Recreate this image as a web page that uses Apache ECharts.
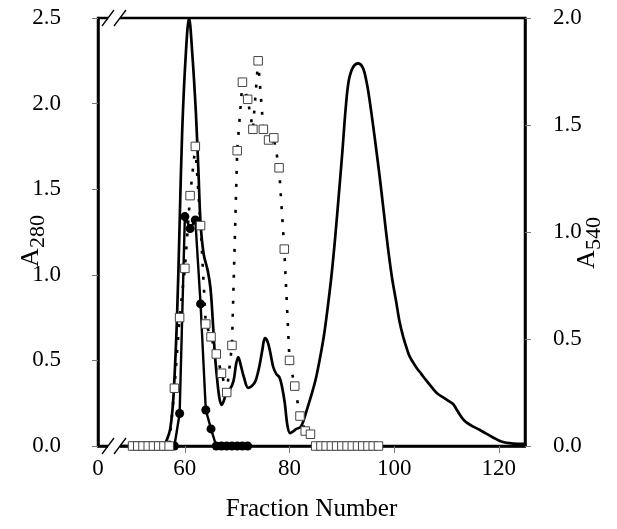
<!DOCTYPE html>
<html><head><meta charset="utf-8">
<script src="https://cdn.jsdelivr.net/npm/echarts@6/dist/echarts.min.js"></script>
<style>html,body{margin:0;padding:0;background:#fff}#c{width:617px;height:529px}</style>
</head><body><div id="c"></div>
<script>
// ---- data ----
const xMin = 43.4, xMax = 125;
const xLabelValues = [43.4, 60, 80, 100, 120];
const xLabelTexts = ['0', '60', '80', '100', '120'];
const xTickValues = [60, 80, 100, 120];

// A280 continuous trace (fraction, absorbance)
const a280Fraction = [47, 50, 55, 56, 56.6, 57.2, 57.8, 58.5, 59.0, 59.5, 60.2, 60.8, 61.4, 62.1, 62.6, 63.0, 63.6, 64.4, 64.9, 65.3, 65.7, 66.2, 66.6, 67.0, 67.4, 67.9, 68.6, 69.3, 69.8, 70.2, 70.7, 71.3, 72.1, 72.8, 73.5, 74.2, 74.8, 75.3, 75.8, 76.3, 76.9, 77.5, 78.1, 78.6, 79.1, 79.6, 80.1, 80.7, 81.3, 82.1, 82.7, 83.4, 84.2, 85.0, 85.8, 86.6, 87.3, 88.0, 88.7, 89.4, 90.1, 90.7, 91.3, 92.1, 93.1, 94.0, 94.7, 95.3, 96.2, 97.2, 98.0, 98.8, 99.6, 100.4, 101.0, 101.7, 102.4, 103.0, 104.2, 105.2, 106.2, 107.4, 108.3, 109.3, 110.3, 111.25, 111.9, 112.5, 113.2, 113.8, 115.0, 116.3, 117.6, 118.9, 120.0, 121.0, 122.0, 123.5, 125];
const a280Value = [0, 0, 0, 0.01, 0.04, 0.1, 0.28, 0.75, 1.3, 1.85, 2.3, 2.5, 2.3, 1.95, 1.6, 1.3, 1.12, 1.02, 0.92, 0.75, 0.55, 0.38, 0.28, 0.24, 0.26, 0.31, 0.33, 0.38, 0.48, 0.52, 0.47, 0.40, 0.34, 0.35, 0.38, 0.46, 0.56, 0.63, 0.61, 0.55, 0.46, 0.42, 0.40, 0.34, 0.25, 0.12, 0.075, 0.085, 0.10, 0.11, 0.15, 0.22, 0.30, 0.39, 0.51, 0.65, 0.81, 0.99, 1.21, 1.46, 1.72, 1.96, 2.13, 2.21, 2.235, 2.21, 2.13, 2.02, 1.82, 1.58, 1.37, 1.16, 0.98, 0.84, 0.73, 0.64, 0.57, 0.52, 0.46, 0.42, 0.38, 0.335, 0.305, 0.285, 0.265, 0.245, 0.215, 0.185, 0.155, 0.138, 0.115, 0.095, 0.072, 0.05, 0.032, 0.022, 0.017, 0.013, 0.012];

// filled circles (left axis)
const circleFraction = [50, 51, 52, 53, 54, 55, 56, 57, 58, 59, 60, 61, 62, 63, 64, 65, 66, 67, 68, 69, 70, 71, 72];
const circleValue = [0, 0, 0, 0, 0, 0, 0, 0, 0, 0.19, 1.34, 1.27, 1.32, 0.83, 0.21, 0.10, 0, 0, 0, 0, 0, 0, 0];

// open squares (right axis, A540)
const squareFraction = [50, 51, 52, 53, 54, 55, 56, 57, 58, 59, 60, 61, 62, 63, 64, 65, 66, 67, 68, 69, 70, 71, 72, 73, 74, 75, 76, 77, 78, 79, 80, 81, 82, 83, 84, 85, 86, 87, 88, 89, 90, 91, 92, 93, 94, 95, 96, 97];
const squareValue = [0, 0, 0, 0, 0, 0, 0, 0, 0.27, 0.60, 0.83, 1.17, 1.40, 1.03, 0.57, 0.51, 0.43, 0.34, 0.25, 0.47, 1.38, 1.70, 1.62, 1.48, 1.80, 1.48, 1.43, 1.44, 1.30, 0.92, 0.40, 0.28, 0.14, 0.07, 0.055, 0, 0, 0, 0, 0, 0, 0, 0, 0, 0, 0, 0, 0];

const leftAxisMax = 2.5, rightAxisMax = 2.0, yInterval = 0.5;

// ---- chart ----
const FONT = '"Liberation Serif", "Times New Roman", serif';
const pair = (xs, ys) => xs.map((x, i) => [x, ys[i]]);
const chart = echarts.init(document.getElementById('c'), null, {renderer: 'canvas'});
const G = {left: 98, right: 92, top: 18, bottom: 83};
const W = 617, H = 529;
const gx0 = G.left, gy0 = G.top, gy1 = H - G.bottom;

function breakMarks(y) {
  return [
    {type: 'rect', z: 100, shape: {x: gx0 + 10, y: y - 3, width: 12, height: 6}, style: {fill: '#fff'}},
    {type: 'line', z: 101, shape: {x1: gx0 + 4, y1: y + 8, x2: gx0 + 16, y2: y - 8}, style: {stroke: '#000', lineWidth: 1.3}},
    {type: 'line', z: 101, shape: {x1: gx0 + 16, y1: y + 8, x2: gx0 + 28, y2: y - 8}, style: {stroke: '#000', lineWidth: 1.3}}
  ];
}

const option = {
  animation: false,
  backgroundColor: '#fff',
  grid: {left: G.left, right: G.right, top: G.top, bottom: G.bottom, show: true, borderColor: '#000', borderWidth: 2.5, containLabel: false},
  xAxis: {
    type: 'value', min: xMin, max: xMax,
    name: 'Fraction Number', nameLocation: 'middle', nameGap: 51,
    nameTextStyle: {fontFamily: FONT, fontSize: 25, color: '#000'},
    axisLine: {show: true, lineStyle: {color: '#000', width: 2.5}},
    axisTick: {show: true, customValues: xTickValues, length: 7, lineStyle: {color: '#777', width: 1}},
    axisLabel: {customValues: xLabelValues, margin: 11, fontFamily: FONT, fontSize: 23, color: '#000',
      formatter: v => { const i = xLabelValues.findIndex(u => Math.abs(u - v) < 1e-6); return i >= 0 ? xLabelTexts[i] : ''; }},
    splitLine: {show: false}
  },
  yAxis: [
    {type: 'value', min: 0, max: leftAxisMax, interval: yInterval, position: 'left',
      axisLine: {show: true, lineStyle: {color: '#000', width: 2.5}},
      axisTick: {show: true, length: 6, lineStyle: {color: '#777', width: 1}},
      axisLabel: {margin: 37, fontFamily: FONT, fontSize: 23, color: '#000', formatter: v => v.toFixed(1)},
      splitLine: {show: false}},
    {type: 'value', min: 0, max: rightAxisMax, interval: yInterval, position: 'right',
      axisLine: {show: true, lineStyle: {color: '#000', width: 2.5}},
      axisTick: {show: true, length: 6, lineStyle: {color: '#777', width: 1}},
      axisLabel: {margin: 28, fontFamily: FONT, fontSize: 23, color: '#000', formatter: v => v.toFixed(1)},
      splitLine: {show: false}}
  ],
  series: [
    {name: 'A280', type: 'line', xAxisIndex: 0, yAxisIndex: 0, data: pair(a280Fraction, a280Value),
      showSymbol: false, smooth: 0.35, z: 3,
      lineStyle: {color: '#000', width: 2.7}},
    {name: 'circles', type: 'line', xAxisIndex: 0, yAxisIndex: 0, data: pair(circleFraction, circleValue),
      symbol: 'circle', symbolSize: 9, z: 4,
      itemStyle: {color: '#000'}, lineStyle: {color: '#000', width: 2.4}},
    {name: 'A540', type: 'line', xAxisIndex: 0, yAxisIndex: 1, data: pair(squareFraction, squareValue),
      symbol: 'rect', symbolSize: 8.5, z: 5,
      itemStyle: {color: '#fff', borderColor: '#444', borderWidth: 1},
      lineStyle: {color: '#000', width: 2.6, type: [3, 10]}}
  ],
  graphic: [
    ...breakMarks(gy0), ...breakMarks(gy1),
    {type: 'group', x: 31, y: 267, rotation: Math.PI / 2, z: 50, children: [
      {type: 'text', x: 0, y: 0, style: {text: 'A', font: '26px ' + FONT, fill: '#000', textAlign: 'left', textVerticalAlign: 'middle'}},
      {type: 'text', x: 19, y: 7, style: {text: '280', font: '22px ' + FONT, fill: '#000', textAlign: 'left', textVerticalAlign: 'middle'}}
    ]},
    {type: 'group', x: 587, y: 269, rotation: Math.PI / 2, z: 50, children: [
      {type: 'text', x: 0, y: 0, style: {text: 'A', font: '26px ' + FONT, fill: '#000', textAlign: 'left', textVerticalAlign: 'middle'}},
      {type: 'text', x: 19, y: 7, style: {text: '540', font: '22px ' + FONT, fill: '#000', textAlign: 'left', textVerticalAlign: 'middle'}}
    ]}
  ]
};
chart.setOption(option);
</script>
</body></html>
